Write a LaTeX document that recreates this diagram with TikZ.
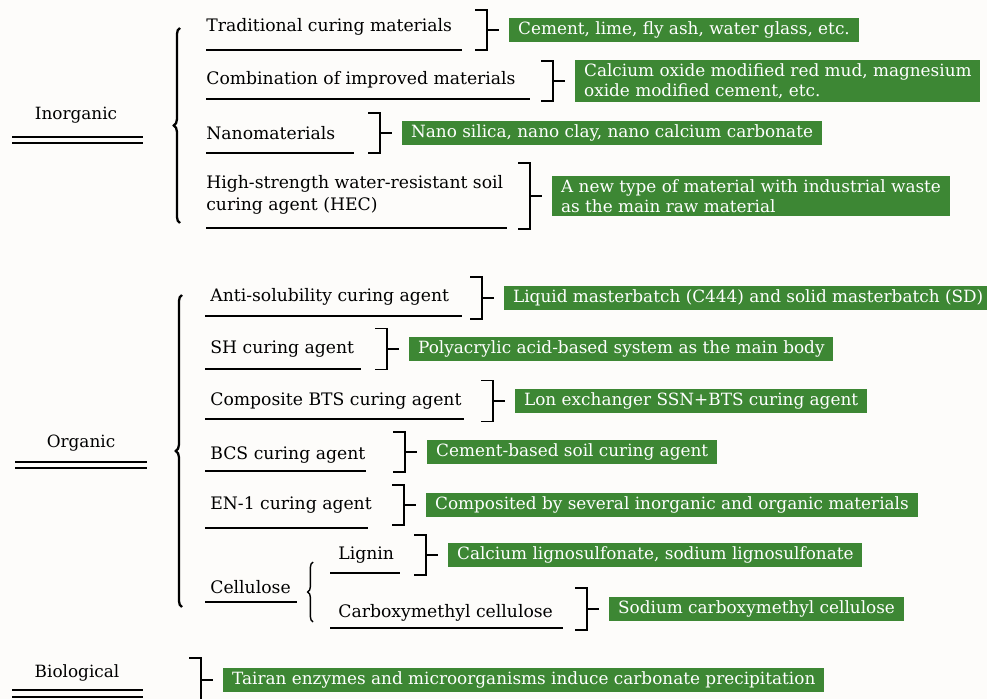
\documentclass[tikz,border=0pt]{standalone}
\usepackage{fontspec}
\setmainfont{DejaVu Serif}
\usepackage{xcolor}
\usetikzlibrary{positioning, decorations.pathreplacing}
\definecolor{leafgreen}{RGB}{61,135,52}
\definecolor{paper}{RGB}{253,252,250}
\tikzset{
  cat/.style={inner sep=0pt, font=\fontsize{9.6}{11}\selectfont},
  term/.style={anchor=west, inner sep=0pt, align=left, font=\fontsize{9.8}{12.5}\selectfont},
  greenbox/.style={fill=leafgreen, text=white, inner xsep=5pt, inner ysep=2pt,
    minimum height=4.8mm, align=left, font=\fontsize{9.6}{11.5}\selectfont},
  uline/.style={line width=0.6pt},
  brk/.style={line width=0.6pt},
  tick/.style={brk, shorten >=2mm},
  curly/.style={decorate, decoration={brace, amplitude=3.5pt}, line width=1.3pt}
}
\newcommand{\clamp}[2]{\draw[brk] ([xshift=-2.4mm,yshift=#2]#1) -| ([yshift=-#2]#1) -- ([xshift=-2.4mm,yshift=-#2]#1);}

\begin{document}
\begin{tikzpicture}[x=0.02cm, y=-0.02cm, node distance=4.4mm]
  \useasboundingbox[fill=paper] (0,0) rectangle (987,699);

  % inorganic
  \node[cat] (inorg) at (76,115) {Inorganic};
  \draw[uline] (12,137) -- (143,137) (12,143) -- (143,143);
  \draw[curly] (180,223) -- (180,28);

  \node[term] (trad) at (206,27) {Traditional curing materials};
  \draw[uline] (206,50) -- (462,50);
  \coordinate (trad-k) at (487,30);
  \clamp{trad-k}{4mm}
  \node[greenbox, right=of trad-k] (trad-ex) {Cement, lime, fly ash, water glass, etc.};
  \draw[tick] (trad-k) -- (trad-ex);

  \node[term] (comb) at (206,80) {Combination of improved materials};
  \draw[uline] (206,99) -- (530,99);
  \coordinate (comb-k) at (553,81);
  \clamp{comb-k}{4mm}
  \node[greenbox, right=of comb-k] (comb-ex) {Calcium oxide modified red mud, magnesium\\oxide modified cement, etc.};
  \draw[tick] (comb-k) -- (comb-ex);

  \node[term] (nano) at (206,133) {Nanomaterials};
  \draw[uline] (206,153) -- (354,153);
  \coordinate (nano-k) at (380,133);
  \clamp{nano-k}{4mm}
  \node[greenbox, right=of nano-k] (nano-ex) {Nano silica, nano clay, nano calcium carbonate};
  \draw[tick] (nano-k) -- (nano-ex);

  \node[term] (hec) at (206,195) {High-strength water-resistant soil\\curing agent (HEC)};
  \draw[uline] (206,228) -- (507,228);
  \coordinate (hec-k) at (530,196);
  \clamp{hec-k}{6.6mm}
  \node[greenbox, right=of hec-k] (hec-ex) {A new type of material with industrial waste\\as the main raw material};
  \draw[tick] (hec-k) -- (hec-ex);

  % organic
  \node[cat] (organ) at (81,443) {Organic};
  \draw[uline] (15,462) -- (147,462) (15,468) -- (147,468);
  \draw[curly] (182,607) -- (182,295);

  \node[term] (anti) at (210,297) {Anti-solubility curing agent};
  \draw[uline] (205,316) -- (462,316);
  \coordinate (anti-k) at (482,298);
  \clamp{anti-k}{4.2mm}
  \node[greenbox, right=of anti-k] (anti-ex) {Liquid masterbatch (C444) and solid masterbatch (SD)};
  \draw[tick] (anti-k) -- (anti-ex);

  \node[term] (sh) at (210,349) {SH curing agent};
  \draw[uline] (205,369) -- (361,369);
  \coordinate (sh-k) at (387,349);
  \clamp{sh-k}{4.1mm}
  \node[greenbox, right=of sh-k] (sh-ex) {Polyacrylic acid-based system as the main body};
  \draw[tick] (sh-k) -- (sh-ex);

  \node[term] (bts) at (210,401) {Composite BTS curing agent};
  \draw[uline] (205,419) -- (464,419);
  \coordinate (bts-k) at (493,401);
  \clamp{bts-k}{4.1mm}
  \node[greenbox, right=of bts-k] (bts-ex) {Lon exchanger SSN+BTS curing agent};
  \draw[tick] (bts-k) -- (bts-ex);

  \node[term] (bcs) at (210,455) {BCS curing agent};
  \draw[uline] (205,471) -- (366,471);
  \coordinate (bcs-k) at (405,452);
  \clamp{bcs-k}{4mm}
  \node[greenbox, right=of bcs-k] (bcs-ex) {Cement-based soil curing agent};
  \draw[tick] (bcs-k) -- (bcs-ex);

  \node[term] (en) at (210,505) {EN-1 curing agent};
  \draw[uline] (205,528) -- (368,528);
  \coordinate (en-k) at (404,505);
  \clamp{en-k}{4mm}
  \node[greenbox, right=of en-k] (en-ex) {Composited by several inorganic and organic materials};
  \draw[tick] (en-k) -- (en-ex);

  \node[term] (cell) at (210,587) {Cellulose};
  \draw[uline] (205,602) -- (297,602);
  \draw[curly, line width=0.8pt, decoration={amplitude=3pt}] (313,622) -- (313,562);

  \node[term] (lig) at (338,555) {Lignin};
  \draw[uline] (330,573) -- (400,573);
  \coordinate (lig-k) at (426,555);
  \clamp{lig-k}{4mm}
  \node[greenbox, right=of lig-k] (lig-ex) {Calcium lignosulfonate, sodium lignosulfonate};
  \draw[tick] (lig-k) -- (lig-ex);

  \node[term] (cmc) at (338,613) {Carboxymethyl cellulose};
  \draw[uline] (330,628) -- (563,628);
  \coordinate (cmc-k) at (587,609);
  \clamp{cmc-k}{4.2mm}
  \node[greenbox, right=of cmc-k] (cmc-ex) {Sodium carboxymethyl cellulose};
  \draw[tick] (cmc-k) -- (cmc-ex);

  % biological
  \node[cat] (bio) at (77,673) {Biological};
  \draw[uline] (12,690) -- (143,690) (12,697) -- (143,697);
  \coordinate (bio-k) at (201,680);
  \draw[brk] ([xshift=-2.4mm,yshift=4.4mm]bio-k) -| ([yshift=-3.8mm]bio-k);
  \node[greenbox, right=of bio-k] (bio-ex) {Tairan enzymes and microorganisms induce carbonate precipitation};
  \draw[tick] (bio-k) -- (bio-ex);
\end{tikzpicture}
\end{document}
